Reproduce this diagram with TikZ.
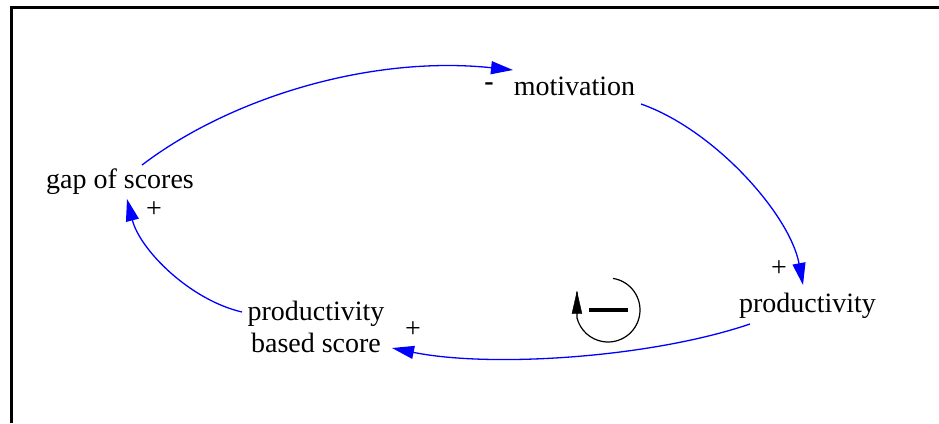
\documentclass[tikz,border=0pt]{standalone}
\usepackage{fontspec}
\setmainfont{Liberation Serif}
\newfontfamily\diagfont{Liberation Serif}
\usetikzlibrary{arrows.meta,calc}
\begin{document}
\begin{tikzpicture}[x=1pt,y=1pt,
  lbl/.style={font=\diagfont\fontsize{28}{33}\selectfont, inner sep=0pt, text=black},
  pol/.style={font=\diagfont\fontsize{28}{33}\selectfont, inner sep=0pt},
  link/.style={draw={rgb,255:red,0;green,0;blue,255}, line width=1.3pt,
    -{Triangle[length=22pt,width=13pt]}},
  frame/.style={line width=2.5pt, black}]
\useasboundingbox (0,0) rectangle (939,-423);
% frame
\draw[frame] (11.5,-423) -- (11.5,-7.5) -- (939,-7.5);
% variables
\node[lbl, anchor=base] (mot) at (574.5,-95) {motivation};
\node[lbl, anchor=base] (gap) at (120,-188) {gap of scores};
\node[lbl, anchor=base] (prod) at (807.5,-312) {productivity};
\node[lbl, anchor=base] (pbs1) at (316,-320) {productivity};
\node[lbl, anchor=base] (pbs) at (316,-352) {based score};
% polarities
\node[pol] (pm) at (489,-87) {\textbf{-}};
\node[pol] (pg) at (154,-210) {+};
\node[pol] (pp) at (779,-269) {+};
\node[pol] (ps) at (413,-330) {+};
% links
\draw[link] ([shift={(22,23)}]gap.base) .. controls (230,-98) and (370,-55) .. ([shift={(-61.5,25)}]mot.base);
\draw[link] ([shift={(66.5,-9)}]mot.base) .. controls (715,-130) and (790,-215) .. ([shift={(-4.5,27)}]prod.base);
\draw[link] ([shift={(-57.5,-12)}]prod.base) .. controls (650,-358) and (490,-368) .. ([shift={(76,4)}]pbs.base);
\draw[link] ([shift={(-74,8)}]pbs1.base) .. controls (190,-300) and (140,-250) .. ([shift={(7,-11)}]gap.base);
% loop symbol
\coordinate (lc) at (608,-310);
\draw[line width=1.2pt, black] (lc) ++(81:32) arc[start angle=81, end angle=-166, radius=32]
  -- ++(0,26) node[coordinate] (lt) {};
\draw[black, fill=black] (lt) -- ++(-5,-22) -- ++(10,0) -- cycle;
\draw[line width=4pt, black] (589,-310) -- (628,-310);
\end{tikzpicture}
\end{document}
